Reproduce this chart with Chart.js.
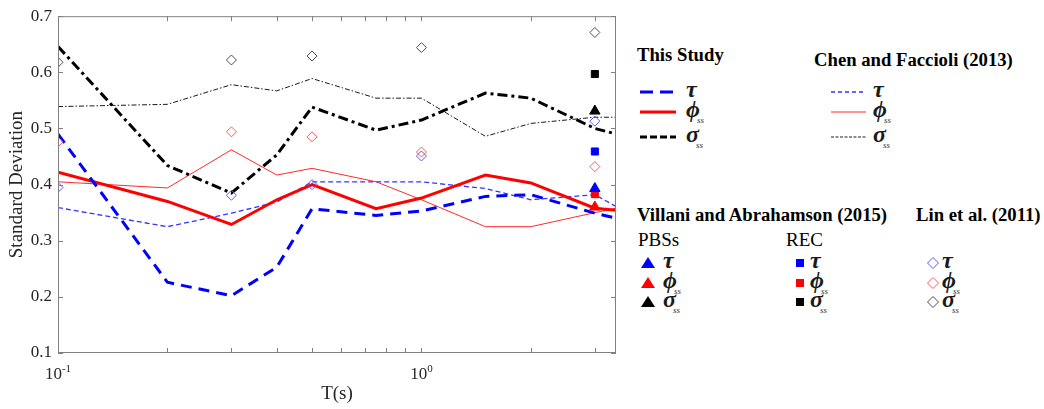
<!DOCTYPE html>
<html lang="en">
<head>
<meta charset="UTF-8">
<title>Standard Deviation vs Period</title>
<script src="https://cdn.jsdelivr.net/npm/chart.js"></script>
<style>
    body {
        margin: 0;
        width: 1044px;
        height: 409px;
        background: #fff;
        font-family: "Liberation Serif", "Times New Roman", serif;
        position: relative;
        overflow: hidden;
    }
    #chartBox {
        position: absolute;
        left: 0;
        top: 0;
        width: 625px;
        height: 409px;
    }
    .lg { position: absolute; white-space: nowrap; color: #000; }
    .head { font-weight: bold; font-size: 18.7px; line-height: 19px; }
    .plain { font-size: 19px; line-height: 19px; }
    .g { font-style: italic; font-weight: bold; font-size: 24px; line-height: 24px; color: #1a1a1a; }
    .g span { font-size: 9px; font-weight: normal; position: relative; top: 6px; margin-left: -3px; color: #333; }
    svg.lg { overflow: visible; }
</style>
</head>
<body>
<div id="chartBox"><canvas id="chart"></canvas></div>

<div class="lg head" style="left:637px; top:45px;">This Study</div>
<div class="lg head" style="left:814px; top:50px;">Chen and Faccioli (2013)</div>
<div class="lg head" style="left:637px; top:205px;">Villani and Abrahamson (2015)</div>
<div class="lg head" style="left:916px; top:205px;">Lin et al. (2011)</div>
<div class="lg plain" style="left:638px; top:230px;">PBSs</div>
<div class="lg plain" style="left:786px; top:230px;">REC</div>
<div id="legendRows"></div>

<script>
    // periods (s) used by the line studies; the last point lies past the axis edge
    const periods = [0.1, 0.2, 0.3, 0.4, 0.5, 0.75, 1.0, 1.5, 2.0, 3.0, 4.0];

    // This Study
    const studyTau   = [0.490, 0.226, 0.202, 0.253, 0.357, 0.345, 0.353, 0.379, 0.382, 0.349, 0.330];
    const studyPhi   = [0.422, 0.370, 0.329, 0.373, 0.400, 0.357, 0.376, 0.417, 0.403, 0.358, 0.350];
    const studySigma = [0.646, 0.434, 0.385, 0.453, 0.538, 0.497, 0.515, 0.563, 0.554, 0.500, 0.479];

    // Chen and Faccioli (2013)
    const chenTau   = [0.359, 0.325, 0.349, 0.369, 0.405, 0.405, 0.405, 0.393, 0.373, 0.382, 0.337];
    const chenPhi   = [0.405, 0.394, 0.462, 0.417, 0.429, 0.405, 0.373, 0.325, 0.325, 0.350, 0.367];
    const chenSigma = [0.539, 0.543, 0.578, 0.567, 0.589, 0.554, 0.554, 0.486, 0.509, 0.520, 0.520];

    // Lin et al. (2011)
    const linPeriods = [0.1, 0.3, 0.5, 1.0, 3.0];
    const linTau   = [0.395, 0.381, 0.400, 0.451, 0.513];
    const linPhi   = [0.476, 0.494, 0.485, 0.458, 0.432];
    const linSigma = [0.618, 0.622, 0.629, 0.644, 0.671];

    // Villani and Abrahamson (2015)
    const villaniPeriods = [3.0];
    const pbsTau = [0.393], pbsPhi = [0.360], pbsSigma = [0.531];
    const recTau = [0.459], recPhi = [0.383], recSigma = [0.597];

    // axes
    const xMin = 0.1, xMax = 3.43;
    const xTickValues = [0.1, 0.2, 0.3, 0.4, 0.5, 0.6, 0.7, 0.8, 0.9, 1, 2, 3];
    const xLabelValues = [0.1, 1];
    const xLabelExps = ['-1', '0'];
    const yTickValues = [0.1, 0.2, 0.3, 0.4, 0.5, 0.6, 0.7];

    const pts = (xs, ys) => xs.map((x, i) => ({ x: x, y: ys[i] }));

    function lineSet(label, ys, color, width, dash) {
        return { label: label, data: pts(periods, ys), borderColor: color, borderWidth: width,
                 borderDash: dash, pointRadius: 0, fill: false, tension: 0 };
    }
    function markSet(label, xs, ys, style, radius, color, filled) {
        return { label: label, data: pts(xs, ys), showLine: false, pointStyle: style, pointRadius: radius,
                 pointBorderColor: color, pointBackgroundColor: filled ? color : 'rgba(0,0,0,0)',
                 pointBorderWidth: 1, pointHoverRadius: radius };
    }

    const framePlugin = {
        id: 'frame',
        afterDatasetsDraw(chart) {
            const { ctx, chartArea: a, scales: { x, y } } = chart;
            ctx.save();
            ctx.strokeStyle = '#808080';
            ctx.lineWidth = 1;
            ctx.strokeRect(a.left + 0.5, a.top + 0.5, a.right - a.left - 1, a.bottom - a.top - 1);
            ctx.beginPath();
            xTickValues.forEach(v => {
                const px = Math.round(x.getPixelForValue(v)) + 0.5;
                ctx.moveTo(px, a.bottom); ctx.lineTo(px, a.bottom - 5);
                ctx.moveTo(px, a.top); ctx.lineTo(px, a.top + 5);
            });
            yTickValues.forEach(v => {
                const py = Math.round(y.getPixelForValue(v)) + 0.5;
                ctx.moveTo(a.left, py); ctx.lineTo(a.left + 5, py);
                ctx.moveTo(a.right, py); ctx.lineTo(a.right - 5, py);
            });
            ctx.stroke();

            // 10^n tick labels
            ctx.fillStyle = '#262626';
            ctx.textBaseline = 'alphabetic';
            xLabelValues.forEach((v, i) => {
                const px = x.getPixelForValue(v);
                ctx.font = '17px "Liberation Serif"';
                const wb = ctx.measureText('10').width;
                ctx.font = '11px "Liberation Serif"';
                const we = ctx.measureText(xLabelExps[i]).width;
                const start = px - (wb + we) / 2;
                ctx.font = '17px "Liberation Serif"';
                ctx.fillText('10', start, a.bottom + 26);
                ctx.font = '11px "Liberation Serif"';
                ctx.fillText(xLabelExps[i], start + wb, a.bottom + 19);
            });
            ctx.restore();
        }
    };

    const chart = new Chart(document.getElementById('chart'), {
        type: 'line',
        data: {
            datasets: [
                markSet('Lin tau', linPeriods, linTau, 'rectRot', 5, '#5a5aff', false),
                markSet('Lin phi', linPeriods, linPhi, 'rectRot', 5, '#ff5a5a', false),
                markSet('Lin sigma', linPeriods, linSigma, 'rectRot', 5, '#4d4d4d', false),
                markSet('PBSs tau', villaniPeriods, pbsTau, 'triangle', 6, '#0000ff', true),
                markSet('PBSs phi', villaniPeriods, pbsPhi, 'triangle', 6, '#ff0000', true),
                markSet('PBSs sigma', villaniPeriods, pbsSigma, 'triangle', 6, '#000000', true),
                markSet('REC tau', villaniPeriods, recTau, 'rect', 5, '#0000ff', true),
                markSet('REC phi', villaniPeriods, recPhi, 'rect', 5, '#ff0000', true),
                markSet('REC sigma', villaniPeriods, recSigma, 'rect', 5, '#000000', true),
                lineSet('This Study tau', studyTau, '#0000ff', 3, [11, 7]),
                lineSet('This Study phi', studyPhi, '#ff0000', 3, []),
                lineSet('This Study sigma', studySigma, '#000000', 3, [10, 4, 3, 4]),
                lineSet('Chen tau', chenTau, '#3535ff', 1.3, [5, 3]),
                lineSet('Chen phi', chenPhi, '#ff2a2a', 1, []),
                lineSet('Chen sigma', chenSigma, '#1a1a1a', 1, [5, 2, 1.5, 2])
            ]
        },
        options: {
            responsive: true,
            maintainAspectRatio: false,
            animation: false,
            layout: { padding: { top: 13, right: 9, left: 0, bottom: 0 } },
            plugins: { legend: { display: false }, tooltip: { enabled: false } },
            scales: {
                x: {
                    type: 'logarithmic',
                    min: xMin,
                    max: xMax,
                    grid: { display: false },
                    border: { display: false },
                    ticks: { display: false },
                    title: { display: true, text: 'T(s)', color: '#262626',
                             font: { family: 'Liberation Serif', size: 19 }, padding: { top: 0, bottom: 4 } },
                    afterFit: s => { s.height = 56; }
                },
                y: {
                    min: 0.1,
                    max: 0.7,
                    grid: { display: false, drawTicks: false },
                    border: { display: false },
                    ticks: { stepSize: 0.1, padding: 6, color: '#262626',
                             font: { family: 'Liberation Serif', size: 17 },
                             callback: v => v.toFixed(1) },
                    title: { display: true, text: 'Standard Deviation', color: '#262626',
                             font: { family: 'Liberation Serif', size: 19 }, padding: { top: 6, bottom: 0 } },
                    afterFit: s => { s.width = 58; }
                }
            }
        },
        plugins: [framePlugin]
    });

    // legend rows: sample + symbol
    const symbols = { tau: '\u03c4', phi: '\u03d5<span>ss</span>', sigma: '\u03c3<span>ss</span>' };
    const rowKeys = ['tau', 'phi', 'sigma'];
    const rows = document.getElementById('legendRows');

    function addSym(key, left, cy) {
        const d = document.createElement('div');
        d.className = 'lg g';
        d.style.left = left + 'px';
        d.style.top = (cy - 15) + 'px';
        d.innerHTML = symbols[key];
        rows.appendChild(d);
    }
    function addSvg(left, cy, w, h, inner) {
        const s = document.createElementNS('http://www.w3.org/2000/svg', 'svg');
        s.setAttribute('class', 'lg');
        s.setAttribute('width', w);
        s.setAttribute('height', h);
        s.style.left = left + 'px';
        s.style.top = (cy - h / 2) + 'px';
        s.innerHTML = inner;
        rows.appendChild(s);
    }

    const studyRowsY = [92, 112, 137];
    const studyStyles = [
        ['#0000ff', 3, '13 7'], ['#ff0000', 3, ''], ['#000000', 3, '7 3']
    ];
    const chenStyles = [
        ['#3535ff', 1.3, '4 3'], ['#ff2a2a', 1.2, ''], ['#1a1a1a', 1, '3 1.5']
    ];
    rowKeys.forEach((k, i) => {
        const cy = studyRowsY[i];
        const [c1, w1, d1] = studyStyles[i];
        addSvg(640, cy, 36, 8, `<line x1="0" y1="4" x2="36" y2="4" stroke="${c1}" stroke-width="${w1}" stroke-dasharray="${d1}"/>`);
        addSym(k, 686, cy);
        const [c2, w2, d2] = chenStyles[i];
        addSvg(831, cy, 35, 8, `<line x1="0" y1="4" x2="35" y2="4" stroke="${c2}" stroke-width="${w2}" stroke-dasharray="${d2}"/>`);
        addSym(k, 873, cy);
    });

    const markRowsY = [263, 283, 302];
    const markColors = ['#0000ff', '#ff0000', '#000000'];
    const linColors = ['#5a5aff', '#ff5a5a', '#4d4d4d'];
    rowKeys.forEach((k, i) => {
        const cy = markRowsY[i];
        addSvg(641, cy, 14, 12, `<polygon points="7,0 14,11 0,11" fill="${markColors[i]}"/>`);
        addSym(k, 663, cy);
        addSvg(796, cy, 8, 8, `<rect x="0" y="0" width="8" height="8" fill="${markColors[i]}"/>`);
        addSym(k, 810, cy);
        addSvg(927, cy, 12, 12, `<polygon points="6,0.5 11.5,6 6,11.5 0.5,6" fill="none" stroke="${linColors[i]}" stroke-width="1"/>`);
        addSym(k, 942, cy);
    });
</script>
</body>
</html>
